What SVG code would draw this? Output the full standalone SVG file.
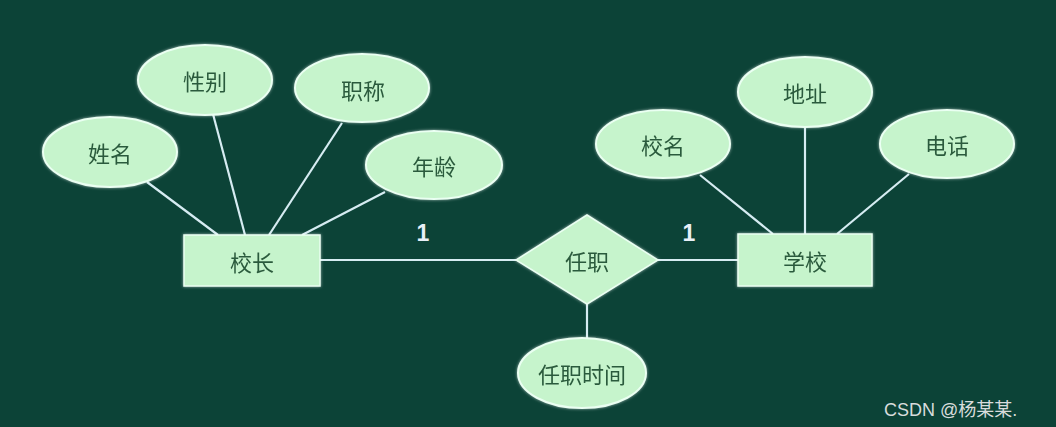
<svg xmlns="http://www.w3.org/2000/svg" width="1056" height="427" viewBox="0 0 1056 427">
<style>
.bg{fill:#0c4337}
.attr{fill:#c6f4cc;stroke:#eafff2;stroke-width:2}
.ent{fill:#c6f4cc;stroke:#eafff2;stroke-width:1.5}
.lbl{font-family:"Noto Sans CJK SC","Noto Sans",sans-serif;font-size:22px;fill:#2b5a3c;text-anchor:middle;dominant-baseline:central}
.card{font-family:"Liberation Sans",Arial,sans-serif;font-size:23px;font-weight:bold;fill:#e8f0f8;text-anchor:middle}
.wm{font-family:"Liberation Sans","Noto Sans CJK SC",sans-serif;font-size:18px;fill:#d8dcdc}
#connectors line{stroke:#d6ecf2;stroke-width:2.2}
</style>
<defs>
<filter id="glow" x="-20%" y="-20%" width="140%" height="140%">
<feGaussianBlur in="SourceAlpha" stdDeviation="1.5" result="b"/>
<feFlood flood-color="#ffffff" flood-opacity="0.6"/>
<feComposite in2="b" operator="in" result="g"/>
<feMerge><feMergeNode in="g"/><feMergeNode in="SourceGraphic"/></feMerge>
</filter>
</defs>
<rect class="bg" x="0" y="0" width="1056" height="427"/>
<g id="connectors">
<line x1="147" y1="182" x2="218" y2="235"/>
<line x1="213" y1="114" x2="245" y2="235"/>
<line x1="342" y1="123" x2="269" y2="235"/>
<line x1="385" y1="192" x2="302" y2="235"/>
<line x1="320" y1="260" x2="516" y2="260"/>
<line x1="657" y1="260" x2="738" y2="260"/>
<line x1="587" y1="304" x2="587" y2="338"/>
<line x1="700" y1="175" x2="773" y2="234"/>
<line x1="805" y1="127" x2="805" y2="234"/>
<line x1="909" y1="174" x2="837" y2="234"/>
</g>
<g id="n-xingming" filter="url(#glow)"><ellipse class="attr" cx="110" cy="152" rx="67" ry="35"/><text class="lbl" x="110" y="152">姓名</text></g>
<g id="n-xingbie" filter="url(#glow)"><ellipse class="attr" cx="205" cy="80" rx="67" ry="35"/><text class="lbl" x="205" y="80">性别</text></g>
<g id="n-zhicheng" filter="url(#glow)"><ellipse class="attr" cx="362" cy="88" rx="67" ry="34"/><text class="lbl" x="363" y="89">职称</text></g>
<g id="n-nianling" filter="url(#glow)"><ellipse class="attr" cx="434" cy="165" rx="68" ry="34"/><text class="lbl" x="434" y="165">年龄</text></g>
<g id="n-xiaozhang" filter="url(#glow)"><rect class="ent" x="184" y="235" width="136" height="51"/><text class="lbl" x="252" y="261">校长</text></g>
<g id="n-renzhi" filter="url(#glow)"><polygon class="ent" points="587,215 658,260 587,304 516,260"/><text class="lbl" x="587" y="260">任职</text></g>
<g id="n-xuexiao" filter="url(#glow)"><rect class="ent" x="738" y="234" width="134" height="52"/><text class="lbl" x="805" y="260">学校</text></g>
<g id="n-xiaoming" filter="url(#glow)"><ellipse class="attr" cx="663" cy="144" rx="67" ry="34"/><text class="lbl" x="663" y="144">校名</text></g>
<g id="n-dizhi" filter="url(#glow)"><ellipse class="attr" cx="805" cy="92" rx="67" ry="35"/><text class="lbl" x="805" y="92">地址</text></g>
<g id="n-dianhua" filter="url(#glow)"><ellipse class="attr" cx="947" cy="144" rx="67" ry="34"/><text class="lbl" x="947" y="144">电话</text></g>
<g id="n-renzhishijian" filter="url(#glow)"><ellipse class="attr" cx="582" cy="373" rx="64" ry="35"/><text class="lbl" x="582" y="373">任职时间</text></g>
<text class="card" x="423" y="241">1</text>
<text class="card" x="689" y="241">1</text>
<text class="wm" x="884" y="416">CSDN @杨某某.</text>
</svg>
